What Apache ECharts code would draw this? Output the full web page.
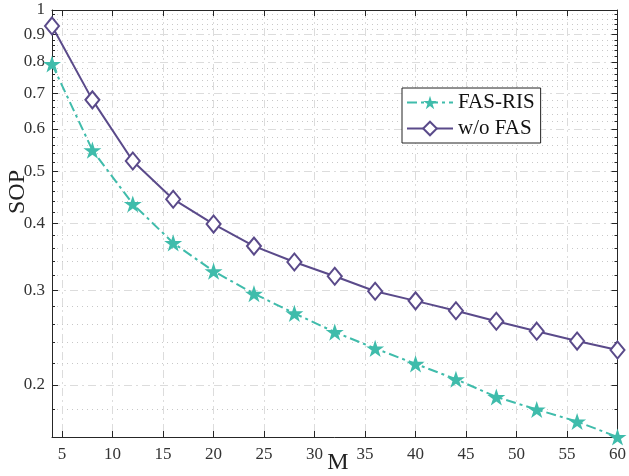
<!DOCTYPE html>
<html>
<head>
<meta charset="utf-8">
<script src="https://cdn.jsdelivr.net/npm/echarts@6/dist/echarts.min.js"></script>
<style>
  html, body { margin: 0; padding: 0; background: #fff; }
  #chart { width: 629px; height: 476px; }
</style>
</head>
<body>
<div id="chart"></div>
<script>
// data
var M = [4, 8, 12, 16, 20, 24, 28, 32, 36, 40, 44, 48, 52, 56, 60];
var sopFasRis = [0.793, 0.548, 0.435, 0.368, 0.326, 0.296, 0.272, 0.251, 0.234, 0.219, 0.205, 0.190, 0.180, 0.171, 0.160];
var sopNoFas  = [0.934, 0.680, 0.523, 0.444, 0.399, 0.363, 0.339, 0.319, 0.299, 0.287, 0.275, 0.263, 0.252, 0.2415, 0.2325];

var xTicks = [5, 10, 15, 20, 25, 30, 35, 40, 45, 50, 55, 60];
var yTicks = [0.2, 0.3, 0.4, 0.5, 0.6, 0.7, 0.8, 0.9, 1];
var yMinor = [0.18, 0.22, 0.24, 0.26, 0.28, 0.32, 0.34, 0.36, 0.38,
              0.42, 0.44, 0.46, 0.48, 0.52, 0.54, 0.56, 0.58,
              0.62, 0.64, 0.66, 0.68, 0.72, 0.74, 0.76, 0.78,
              0.82, 0.84, 0.86, 0.88, 0.92, 0.94, 0.96, 0.98];

var TEAL = '#3fbcab';
var PURPLE = '#5a4a8a';
var AXIS = '#262626';
var FONT = '"Liberation Serif", "DejaVu Serif", serif';
var STAR = 'path://M50 0 L61.23 34.55 L97.55 34.55 L68.17 55.9 L79.39 90.45 L50 69.1 L20.61 90.45 L31.83 55.9 L2.45 34.55 L38.77 34.55 Z';

function pairs(xs, ys) {
  return xs.map(function (x, i) { return [x, ys[i]]; });
}

function yAxisCfg(pos, ticks, tickLen, showLabel, showLine, split) {
  return {
    type: 'log', logBase: 10, min: 0.16, max: 1, position: pos,
    axisLine: { show: showLine, lineStyle: { color: AXIS, width: 1 } },
    axisTick: { show: true, inside: true, length: tickLen, customValues: ticks,
                lineStyle: { color: AXIS, width: 1 } },
    axisLabel: { show: showLabel, customValues: ticks, margin: 7,
                 color: '#333', fontSize: 17, fontFamily: FONT },
    splitLine: split ? { show: true, lineStyle: split } : { show: false },
    minorTick: { show: false }, minorSplitLine: { show: false }
  };
}

var chart = echarts.init(document.getElementById('chart'), null, { renderer: 'canvas' });

chart.setOption({
  animation: false,
  backgroundColor: '#fff',
  grid: { left: 52, right: 9, top: 10, bottom: 39, containLabel: false },
  xAxis: [
    {
      type: 'value', min: 4, max: 60, position: 'bottom',
      axisLine: { show: true, onZero: false, lineStyle: { color: AXIS, width: 1 } },
      axisTick: { show: true, inside: true, length: 6, customValues: xTicks,
                  lineStyle: { color: AXIS } },
      axisLabel: { customValues: xTicks, margin: 9, color: '#333',
                   fontSize: 17, fontFamily: FONT },
      splitLine: { show: true, lineStyle: { color: '#dcdcdc', width: 1, type: [8, 4, 2, 4] } }
    },
    {
      type: 'value', min: 4, max: 60, position: 'top',
      axisLine: { show: true, onZero: false, lineStyle: { color: AXIS, width: 1 } },
      axisTick: { show: true, inside: true, length: 6, customValues: xTicks,
                  lineStyle: { color: AXIS } },
      axisLabel: { show: false },
      splitLine: { show: false }
    }
  ],
  yAxis: [
    yAxisCfg('left', yTicks, 6, true, true, { color: '#dcdcdc', width: 1, type: [8, 4, 2, 4] }),
    yAxisCfg('left', yMinor, 3, false, false, { color: '#c8c8c8', width: 1, type: [1, 4] }),
    yAxisCfg('right', yTicks, 6, false, true, null),
    yAxisCfg('right', yMinor, 3, false, false, null)
  ],
  legend: {
    orient: 'vertical', left: 402, top: 88,
    padding: [4, 6, 4, 4], itemGap: 5, itemWidth: 46, itemHeight: 17,
    backgroundColor: '#fff', borderColor: '#222', borderWidth: 1, borderRadius: 0,
    textStyle: { fontFamily: FONT, fontSize: 21, color: '#111' },
    data: ['FAS-RIS', 'w/o FAS']
  },
  graphic: [
    { type: 'text', x: 18, y: 192, rotation: Math.PI / 2,
      style: { text: 'SOP', font: '24px ' + FONT, fill: '#222', align: 'center', verticalAlign: 'middle' } },
    { type: 'text', x: 338, y: 463,
      style: { text: 'M', font: '24px ' + FONT, fill: '#222', align: 'center', verticalAlign: 'middle' } }
  ],
  series: [
    {
      name: 'FAS-RIS', type: 'line', xAxisIndex: 0, yAxisIndex: 0,
      data: pairs(M, sopFasRis),
      symbol: STAR, symbolSize: 18, symbolKeepAspect: true,
      itemStyle: { color: TEAL },
      lineStyle: { color: TEAL, width: 2, type: [10, 4, 3, 4] },
      z: 3
    },
    {
      name: 'w/o FAS', type: 'line', xAxisIndex: 0, yAxisIndex: 0,
      data: pairs(M, sopNoFas),
      symbol: 'emptyDiamond', symbolSize: [14, 17],
      itemStyle: { color: PURPLE, borderWidth: 2 },
      lineStyle: { color: PURPLE, width: 2 },
      z: 4
    }
  ]
});
</script>
</body>
</html>
